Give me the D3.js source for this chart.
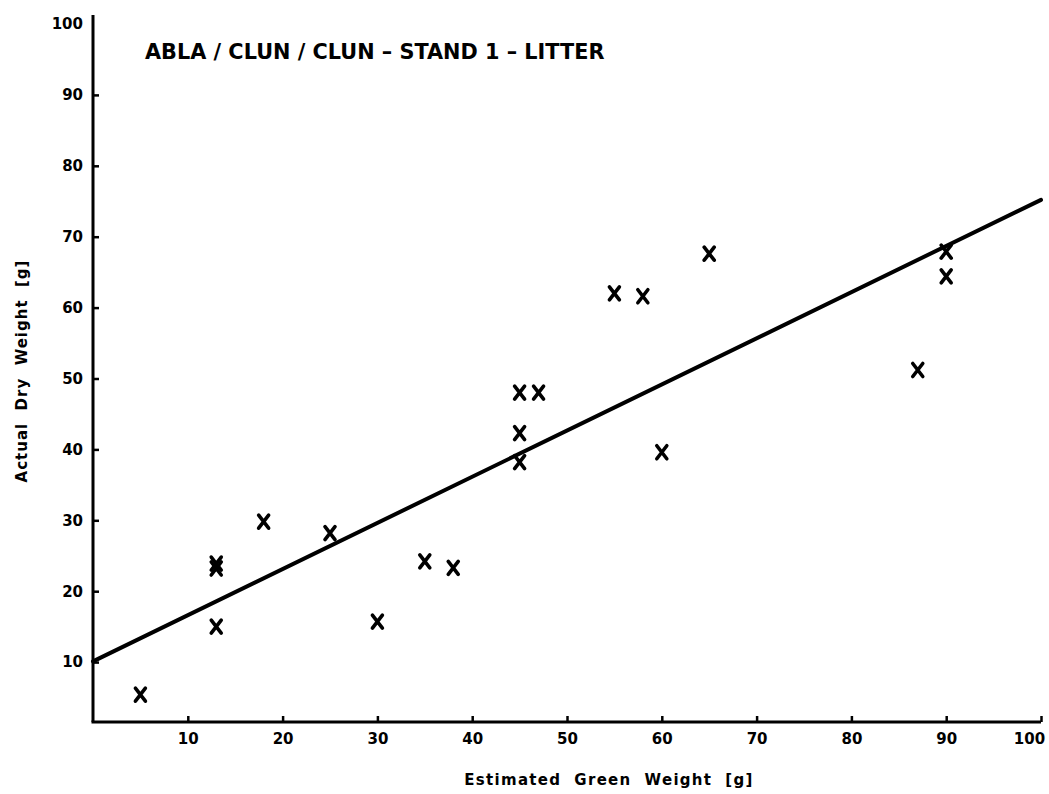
<!DOCTYPE html>
<html>
<head>
<meta charset="utf-8">
<script src="https://cdn.jsdelivr.net/npm/d3@7"></script>
<style>
  html, body { margin: 0; padding: 0; background: #fff; }
  svg { display: block; }
  text { font-family: "DejaVu Sans", sans-serif; font-weight: bold; fill: #000; }
</style>
</head>
<body>
<svg id="chart" width="1049" height="794"></svg>
<script>
// Litter sample: estimated green weight vs. actual dry weight (grams)
const estimatedGreen = [5, 13, 13, 13, 18, 25, 30, 35, 38, 45, 45, 45, 47, 55, 58, 60, 65, 87, 90, 90];
const actualDry      = [5.4, 23.9, 23.2, 15.0, 29.8, 28.2, 15.7, 24.2, 23.3, 48.0, 42.3, 38.2, 48.0, 62.0, 61.6, 39.6, 67.6, 51.2, 67.9, 64.4];

// Fitted regression line end points
const fitX = [0, 100];
const fitY = [10.1, 75.2];

const xTicks = [10, 20, 30, 40, 50, 60, 70, 80, 90, 100];
const yTicks = [10, 20, 30, 40, 50, 60, 70, 80, 90, 100];

const title = "ABLA / CLUN / CLUN \u2013 STAND 1 \u2013 LITTER";
const xTitle = "Estimated  Green  Weight  [g]";
const yTitle = "Actual  Dry  Weight  [g]";

const svg = d3.select("#chart");

const x = d3.scaleLinear().domain([0, 100]).range([93, 1041]);
const y = d3.scaleLinear().domain([0, 100]).range([733, 24]);
const axisY = 722;   // baseline of the horizontal axis
const axisTop = 15;  // top of the vertical axis

// X axis: ticks pointing up into the plot
const gx = svg.append("g")
  .attr("transform", `translate(0,${axisY})`)
  .call(d3.axisBottom(x).tickValues(xTicks).tickSizeInner(-6).tickSizeOuter(0).tickPadding(11));
gx.select(".domain").remove();
gx.selectAll(".tick line").attr("stroke", "#000").attr("stroke-width", 2.5);
gx.selectAll(".tick text")
  .style("font-size", "15px").style("font-family", "'DejaVu Sans', sans-serif").style("font-weight", "bold")
  .attr("dx", d => d === 100 ? -12 : 0);

// Y axis: ticks pointing right into the plot
const gy = svg.append("g")
  .attr("transform", `translate(${x(0)},0)`)
  .call(d3.axisLeft(y).tickValues(yTicks).tickSizeInner(-6).tickSizeOuter(0).tickPadding(10));
gy.select(".domain").remove();
gy.selectAll(".tick line").attr("stroke", "#000").attr("stroke-width", 2.5)
  .attr("opacity", d => d === 100 ? 0 : 1);
gy.selectAll(".tick text").style("font-size", "15px").style("font-family", "'DejaVu Sans', sans-serif").style("font-weight", "bold");

// Axis lines
svg.append("line")
  .attr("x1", x(0)).attr("x2", x(0))
  .attr("y1", axisTop).attr("y2", axisY)
  .attr("stroke", "#000").attr("stroke-width", 3);
svg.append("line")
  .attr("x1", x(0) - 1.5).attr("x2", x(100))
  .attr("y1", axisY).attr("y2", axisY)
  .attr("stroke", "#000").attr("stroke-width", 3);

// Regression line
svg.append("path")
  .datum(fitX.map((v, i) => [v, fitY[i]]))
  .attr("d", d3.line().x(d => x(d[0])).y(d => y(d[1])))
  .attr("fill", "none").attr("stroke", "#000")
  .attr("stroke-width", 4).attr("stroke-linecap", "round");

// Observations drawn as X marks
const hw = 5, hh = 6.5;
const cross = `M${-hw},${-hh}L${hw},${hh}M${hw},${-hh}L${-hw},${hh}`;
svg.append("g").selectAll("path")
  .data(estimatedGreen.map((v, i) => [v, actualDry[i]]))
  .join("path")
  .attr("transform", d => `translate(${x(d[0])},${y(d[1])})`)
  .attr("d", cross)
  .attr("fill", "none").attr("stroke", "#000")
  .attr("stroke-width", 3.6).attr("stroke-linecap", "round");

// Titles
svg.append("text")
  .attr("x", 145).attr("y", 59)
  .style("font-size", "20.8px")
  .text(title);

svg.append("text")
  .attr("x", (465 + 753) / 2).attr("y", 785)
  .attr("text-anchor", "middle")
  .style("font-size", "15px")
  .style("letter-spacing", "1.3px")
  .style("white-space", "pre")
  .attr("xml:space", "preserve")
  .text(xTitle);

svg.append("text")
  .attr("transform", "translate(27,371) rotate(-90)")
  .attr("text-anchor", "middle")
  .style("font-size", "15px")
  .style("letter-spacing", "1px")
  .style("white-space", "pre")
  .attr("xml:space", "preserve")
  .text(yTitle);
</script>
</body>
</html>
